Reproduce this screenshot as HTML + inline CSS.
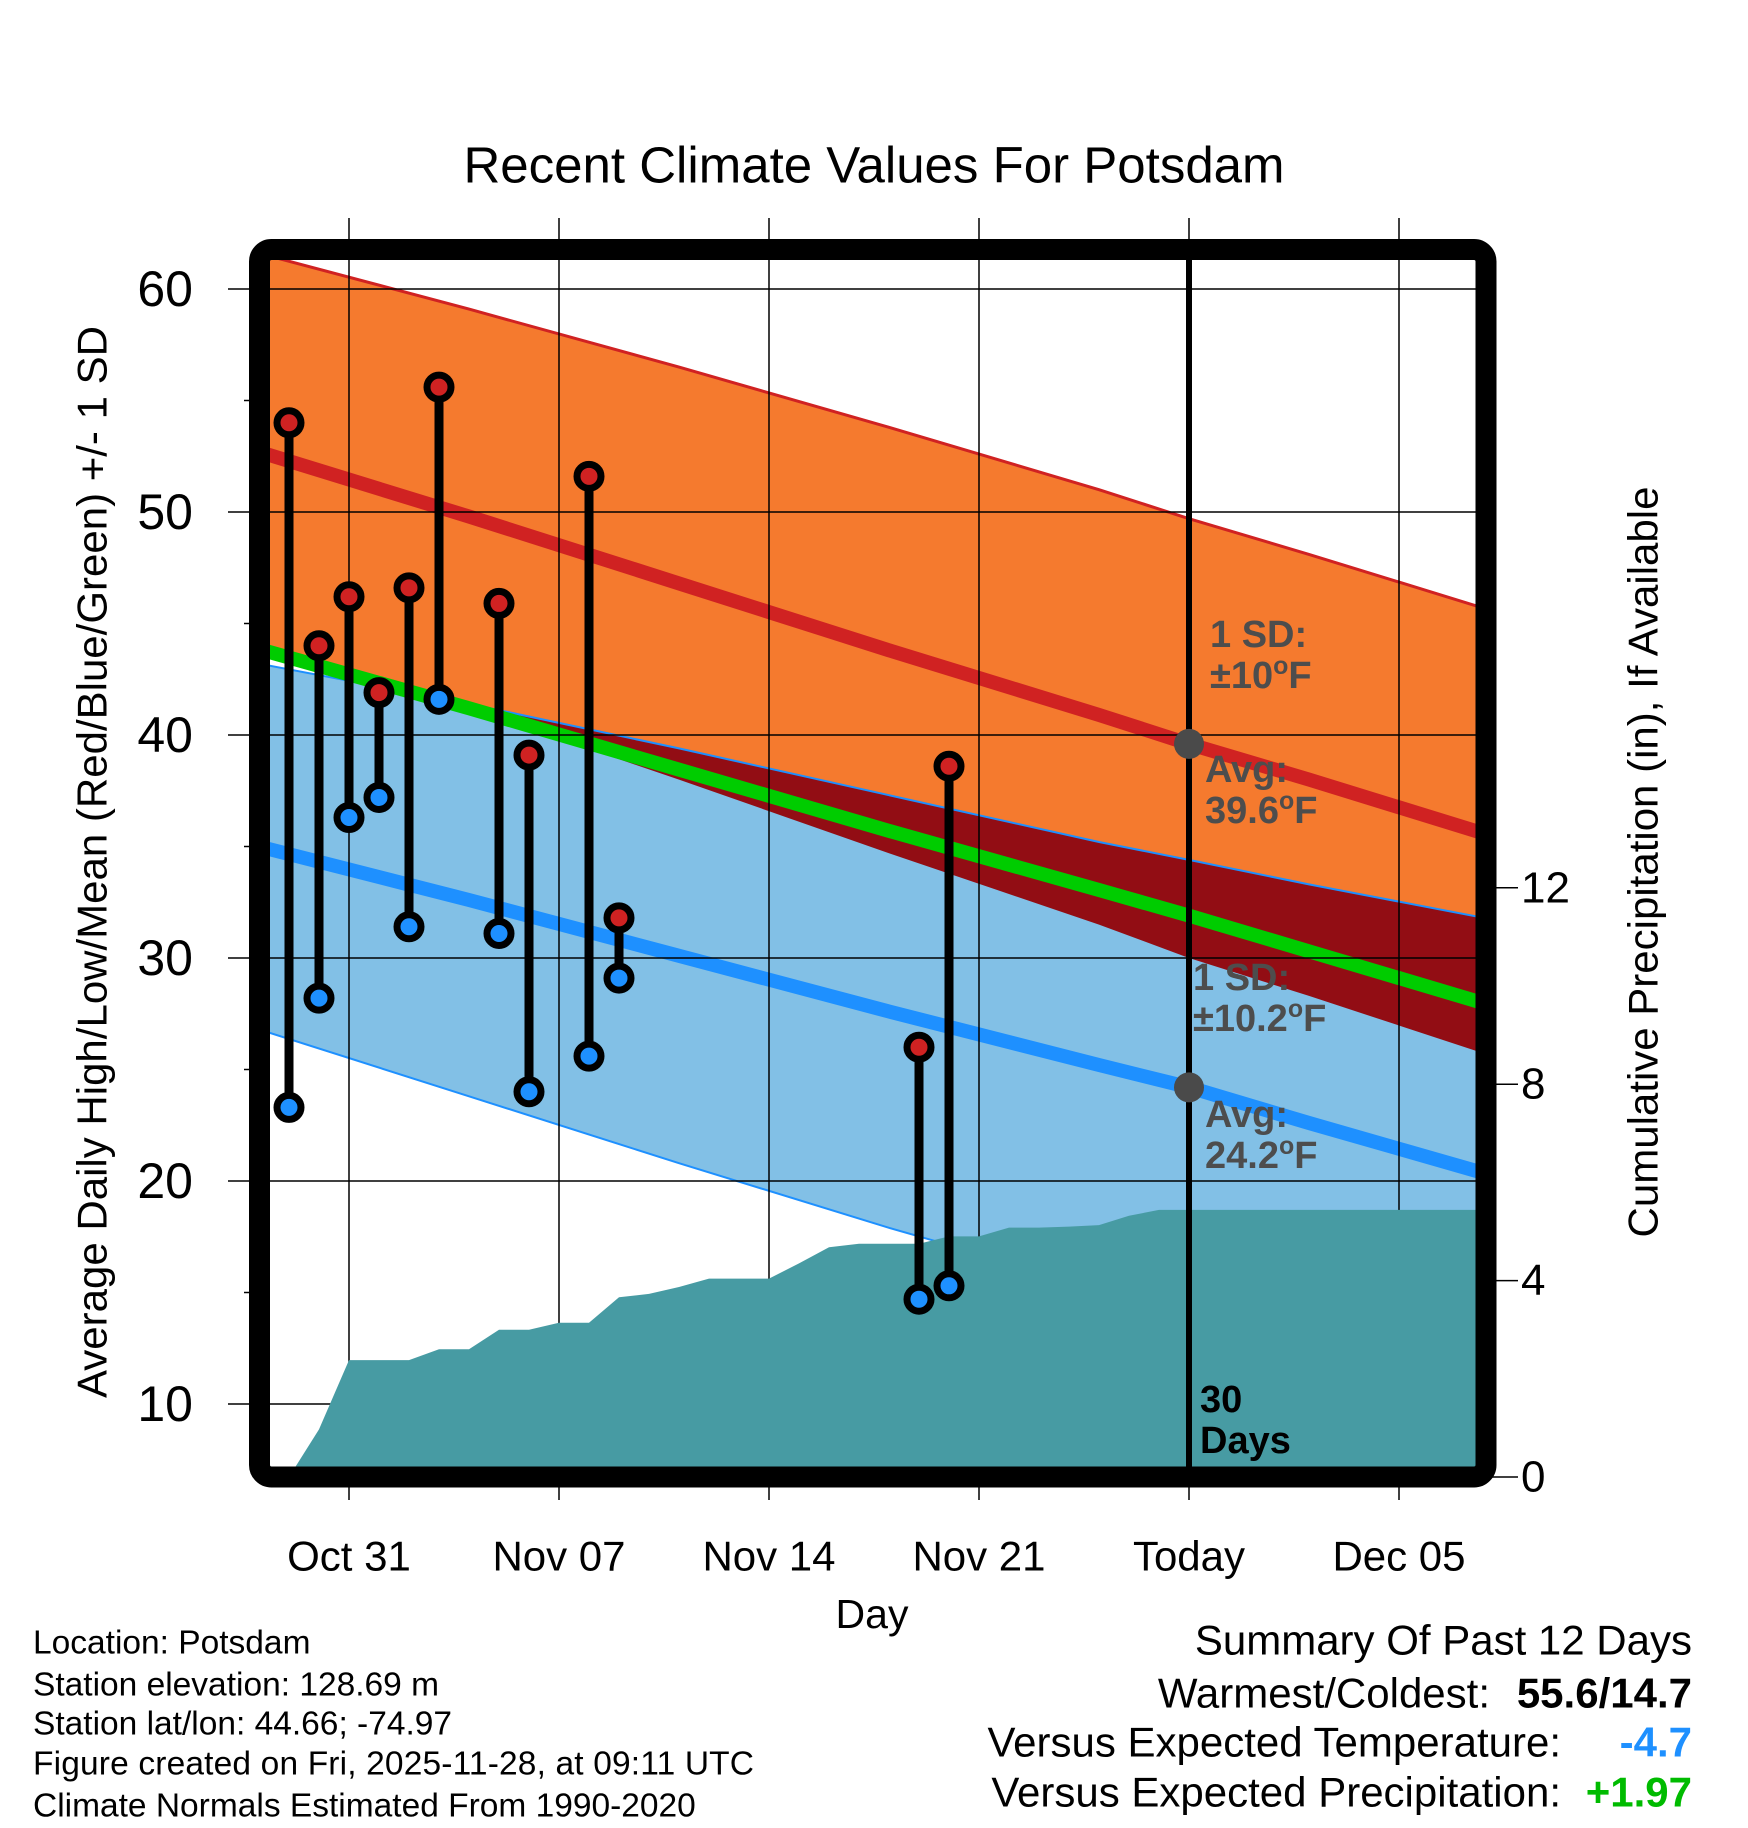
<!DOCTYPE html>
<html><head><meta charset="utf-8"><style>
html,body{margin:0;padding:0;background:#fff}
svg{display:block}
text{font-family:"Liberation Sans",sans-serif}
</style></head><body>
<svg id="chart" width="1748" height="1828" viewBox="0 0 1748 1828" xmlns="http://www.w3.org/2000/svg">
<defs><clipPath id="plotclip"><rect x="270" y="259" width="1208" height="1209"/></clipPath></defs>
<g id="plot" clip-path="url(#plotclip)"></g>
<g id="over"></g>
<rect x="259.5" y="249.5" width="1226.5" height="1227.5" rx="12" fill="none" stroke="#000" stroke-width="21"/>
<g id="axes"></g>
<text x="874" y="165" font-size="51" text-anchor="middle" dominant-baseline="central">Recent Climate Values For Potsdam</text>
<text transform="translate(92,862) rotate(-90)" font-size="42" text-anchor="middle" dominant-baseline="central">Average Daily High/Low/Mean (Red/Blue/Green) +/- 1 SD</text>
<text transform="translate(1643,862) rotate(-90)" font-size="42" text-anchor="middle" dominant-baseline="central">Cumulative Precipitation (in), If Available</text>
<text x="872" y="1614" font-size="41" text-anchor="middle" dominant-baseline="central">Day</text>
<g font-size="33.5">
<text x="33" y="1643" dominant-baseline="central">Location: Potsdam</text>
<text x="33" y="1685" dominant-baseline="central">Station elevation: 128.69 m</text>
<text x="33" y="1724" dominant-baseline="central">Station lat/lon: 44.66; -74.97</text>
<text x="33" y="1764" dominant-baseline="central" textLength="721">Figure created on Fri, 2025-11-28, at 09:11 UTC</text>
<text x="33" y="1806" dominant-baseline="central">Climate Normals Estimated From 1990-2020</text>
</g>
<g font-size="42" text-anchor="end">
<text x="1692" y="1640" dominant-baseline="central">Summary Of Past 12 Days</text>
<text x="1490" y="1693" dominant-baseline="central">Warmest/Coldest:</text>
<text x="1692" y="1693" dominant-baseline="central" font-weight="bold">55.6/14.7</text>
<text x="1561" y="1742" dominant-baseline="central">Versus Expected Temperature:</text>
<text x="1692" y="1742" dominant-baseline="central" font-weight="bold" fill="#1e90ff">-4.7</text>
<text x="1561" y="1792" dominant-baseline="central">Versus Expected Precipitation:</text>
<text x="1692" y="1792" dominant-baseline="central" font-weight="bold" fill="#00bb00">+1.97</text>
</g>
</svg>
<script>
// days relative to Oct 31
const normDays = [-3, 4, 11, 18, 25, 28, 32, 39];
const meanHigh = [52.7, 49.8, 46.8, 43.8, 40.9, 39.6, 38.0, 35.1];
const sdHighUpper = [8.9, 9.3, 9.7, 10.0, 10.1, 10.1, 10.1, 10.1];
const sdHighLower = [8.6, 8.6, 8.8, 9.1, 9.4, 9.6, 9.7, 9.9];
const meanLow = [35.0, 32.6, 30.1, 27.6, 25.2, 24.2, 22.6, 19.9];
const sdLow = [8.2, 8.8, 9.3, 9.7, 10.0, 10.2, 10.7, 11.6];
const obsDays = [-2, -1, 0, 1, 2, 3, 5, 6, 8, 9, 19, 20];
const obsHigh = [54.0, 44.0, 46.2, 41.9, 46.6, 55.6, 45.9, 39.1, 51.6, 31.8, 26.0, 38.6];
const obsLow = [23.3, 28.2, 36.3, 37.2, 31.4, 41.6, 31.1, 24.0, 25.6, 29.1, 14.7, 15.3];
const precipDays = [-2, -1, 0, 1, 2, 3, 4, 5, 6, 7, 8, 9, 10, 11, 12, 13, 14, 15, 16, 17, 18, 19, 20, 21, 22, 23, 24, 25, 26, 27, 28, 40];
const precipVals = [0, 0.97, 2.38, 2.38, 2.38, 2.6, 2.6, 3.0, 3.0, 3.14, 3.14, 3.66, 3.73, 3.87, 4.04, 4.04, 4.04, 4.35, 4.68, 4.75, 4.75, 4.75, 4.9, 4.9, 5.08, 5.08, 5.1, 5.13, 5.32, 5.44, 5.44, 5.44];
const tempTicks = [10, 20, 30, 40, 50, 60];
const precipTicks = [0, 4, 8, 12];
const xTickDays = [0, 7, 14, 21, 28, 35];
const xTickLabels = ["Oct 31", "Nov 07", "Nov 14", "Nov 21", "Today", "Dec 05"];
const todayDay = 28;

const NS = "http://www.w3.org/2000/svg";
const X = d => 349 + d * 30;
const Y = t => 289 + (60 - t) * 22.3;
const P = v => 1477 - v * 49.1;
function mk(tag, attrs, parent) {
  const e = document.createElementNS(NS, tag);
  for (const k in attrs) e.setAttribute(k, attrs[k]);
  parent.appendChild(e);
  return e;
}
const plot = document.getElementById("plot");
const over = document.getElementById("over");
const axes = document.getElementById("axes");
const pts = arr => normDays.map((d, i) => X(d) + "," + Y(arr[i]).toFixed(1));
const hiUp = meanHigh.map((m, i) => m + sdHighUpper[i]);
const hiDn = meanHigh.map((m, i) => m - sdHighLower[i]);
const loUp = meanLow.map((m, i) => m + sdLow[i]);
const loDn = meanLow.map((m, i) => m - sdLow[i]);
const mean = meanHigh.map((m, i) => (m + meanLow[i]) / 2);

let e;
e = mk("polygon", {points: pts(hiUp).concat(pts(hiDn).reverse()).join(" "), fill: "#f57a2e"}, plot);


e = mk("polygon", {points: pts(loUp).concat(pts(loDn).reverse()).join(" "), fill: "#82c0e6"}, plot);


const ovUp = loUp.map((v, i) => Math.max(v, hiDn[i]));
e = mk("polygon", {points: pts(ovUp).concat(pts(hiDn).reverse()).join(" "), fill: "#920d14"}, plot);


e = mk("polyline", {points: pts(hiUp).join(" "), fill: "none", stroke: "#d02222", "stroke-width": 3}, plot);


e = mk("polyline", {points: pts(loUp).join(" "), fill: "none", stroke: "#1e90ff", "stroke-width": 2}, plot);


e = mk("polyline", {points: pts(loDn).join(" "), fill: "none", stroke: "#1e90ff", "stroke-width": 2}, plot);


e = mk("polyline", {points: pts(meanHigh).join(" "), fill: "none", stroke: "#d02222", "stroke-width": 14}, plot);


e = mk("polyline", {points: pts(mean).join(" "), fill: "none", stroke: "#00cc00", "stroke-width": 14}, plot);


e = mk("polyline", {points: pts(meanLow).join(" "), fill: "none", stroke: "#1e90ff", "stroke-width": 14}, plot);



// grid
tempTicks.forEach(t => {
  e = mk("line", {x1: 228, x2: 1478, y1: Y(t), y2: Y(t), stroke: "#000", "stroke-width": 1.5}, over);
  
  
  e = mk("text", {x: 193, y: Y(t), "font-size": 50, "text-anchor": "end", "dominant-baseline": "central"}, axes);
  e.textContent = t;
  
  
});
for (let t = 15; t < 60; t += 10) {
  e = mk("line", {x1: 244, x2: 260, y1: Y(t), y2: Y(t), stroke: "#000", "stroke-width": 1.5}, axes);
  
  
}
xTickDays.forEach((d, i) => {
  e = mk("line", {x1: X(d), x2: X(d), y1: 218, y2: 1500, stroke: "#000", "stroke-width": 1.5}, over);
  
  
  e = mk("text", {x: X(d), y: 1556, "font-size": 42, "text-anchor": "middle", "dominant-baseline": "central"}, axes);
  e.textContent = xTickLabels[i];
  
  
});
precipTicks.forEach(v => {
  e = mk("line", {x1: 1486, x2: 1518, y1: P(v), y2: P(v), stroke: "#000", "stroke-width": 1.5}, axes);
  
  
  e = mk("text", {x: 1521, y: P(v), "font-size": 44, "dominant-baseline": "central"}, axes);
  e.textContent = v;
  
  
});

// precipitation area
const pp = precipDays.map((d, i) => X(d) + "," + P(precipVals[i]).toFixed(1));
const pg = document.createElementNS(NS, "g");
pg.setAttribute("clip-path", "url(#plotclip)");
over.appendChild(pg);
e = mk("polygon", {points: [X(precipDays[0]) + "," + P(0)].concat(pp, [X(precipDays[precipDays.length - 1]) + ",1500", X(precipDays[0]) + ",1500"]).join(" "), fill: "#479ba3"}, pg);



// today line
e = mk("line", {x1: X(todayDay), x2: X(todayDay), y1: 259, y2: 1468, stroke: "#000", "stroke-width": 6}, over);


const ti = normDays.indexOf(todayDay);
e = mk("circle", {cx: X(todayDay), cy: Y(meanHigh[ti]), r: 15, fill: "#4a4a4a"}, over);


e = mk("circle", {cx: X(todayDay), cy: Y(meanLow[ti]), r: 15, fill: "#4a4a4a"}, over);



// observations
obsDays.forEach((d, i) => {
  e = mk("line", {x1: X(d), x2: X(d), y1: Y(obsHigh[i]), y2: Y(obsLow[i]), stroke: "#000", "stroke-width": 9}, over);
  
  
  e = mk("circle", {cx: X(d), cy: Y(obsHigh[i]), r: 12, fill: "#d02222", stroke: "#000", "stroke-width": 7}, over);
  
  
  e = mk("circle", {cx: X(d), cy: Y(obsLow[i]), r: 12, fill: "#1e90ff", stroke: "#000", "stroke-width": 7}, over);
  
  
});

// annotations
function label(x, y, lines, color, name) {
  const t = mk("text", {x: x, y: y, "font-size": 38, "font-weight": "bold", fill: color}, over);
  
  
  lines.forEach((s, k) => {
    const ts = mk("tspan", {x: x, dy: k ? 41 : 0}, t);
    ts.innerHTML = s;
  });
}
label(1210, 647, ["1 SD:", "±10<tspan dy='-14' font-size='25'>o</tspan><tspan dy='14'>F</tspan>"], "#4d4d4d", "high-sd-annotation");
label(1205, 782, ["Avg:", "39.6<tspan dy='-14' font-size='25'>o</tspan><tspan dy='14'>F</tspan>"], "#4d4d4d", "high-avg-annotation");
label(1193, 990, ["1 SD:", "±10.2<tspan dy='-14' font-size='25'>o</tspan><tspan dy='14'>F</tspan>"], "#4d4d4d", "low-sd-annotation");
label(1205, 1127, ["Avg:", "24.2<tspan dy='-14' font-size='25'>o</tspan><tspan dy='14'>F</tspan>"], "#4d4d4d", "low-avg-annotation");
label(1200, 1412, ["30", "Days"], "#000", "days-annotation");
</script>
</body></html>
